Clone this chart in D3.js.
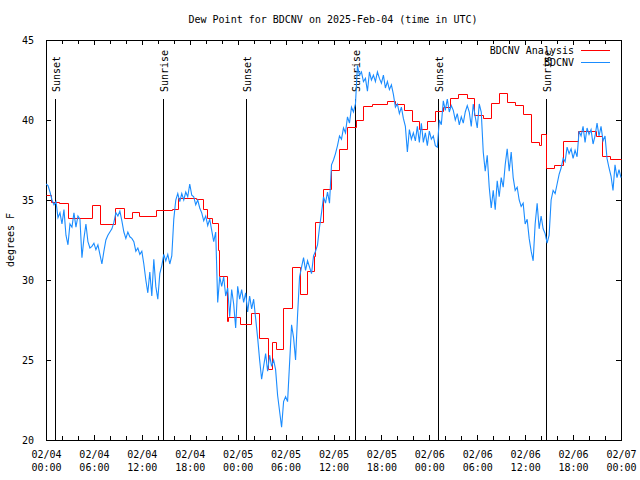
<!DOCTYPE html>
<html><head><meta charset="utf-8">
<script src="https://cdn.jsdelivr.net/npm/d3@7"></script>
<style>
body{margin:0;background:#fff}
text{font-family:"DejaVu Sans Mono","Liberation Mono",monospace;font-size:10px;fill:#000}
</style>
</head><body><svg id="c" width="640" height="480"></svg>
<script>
// ---------- DATA ----------
const title = "Dew Point for BDCNV on 2025-Feb-04 (time in UTC)";
const yLabel = "degrees F";
const seriesNames = ["BDCNV Analysis", "BDCNV"];
const startUTC = Date.UTC(2025, 1, 4, 0, 0);
const spanHours = 72;
const yTicks = [20, 25, 30, 35, 40, 45];

// observations, one value every 15 minutes from 02/04 00:00
const obsStepHours = 0.25;
const obsValues = [
  36.0,35.9,35.5,35.0, 34.7,34.9,33.9,34.2, 33.5,34.4,32.8,32.2, 33.5,33.3,34.2,33.3,
  34.0,33.8,31.4,32.6, 33.5,32.4,32.0,32.1, 32.3,31.9,32.2,31.6, 31.0,31.8,32.5,32.8,
  33.0,33.2,33.6,34.2, 34.0,34.3,33.7,33.0, 32.6,33.0,32.7,32.6, 32.4,31.8,32.0,31.6,
  31.8,31.0,30.0,29.2, 30.5,29.0,31.3,29.6, 28.8,30.4,30.9,31.6, 31.2,31.6,31.0,31.5,
  33.8,35.0,35.4,34.9, 35.4,35.0,35.5,35.2, 36.0,35.3,35.2,34.7, 35.0,34.5,34.2,33.7,
  34.0,33.4,33.8,33.1, 32.4,33.0,28.6,30.2, 29.6,30.2,29.0,29.5, 27.7,29.4,28.5,27.0,
  29.6,28.8,29.4,28.6, 29.2,28.0,29.0,28.2, 28.8,27.6,26.4,25.0, 23.8,24.6,25.4,24.3,
  25.3,24.6,25.0,24.4, 22.8,21.8,20.8,22.4, 22.7,22.4,24.8,27.2, 26.4,25.0,27.8,30.2,
  30.8,31.4,30.6,31.2, 30.8,30.4,31.5,31.8, 32.2,33.3,34.2,35.2, 34.8,35.5,34.8,37.2,
  37.5,37.9,38.4,39.0, 38.8,39.5,39.2,40.2, 39.8,40.8,40.5,41.0, 43.4,42.8,43.0,42.4,
  42.6,41.8,43.0,42.5, 42.8,42.4,43.0,42.6, 42.3,42.8,42.0,42.4, 41.9,42.2,41.6,40.8,
  41.0,40.4,40.8,40.1, 39.6,38.0,39.4,38.8, 39.2,38.7,39.6,38.6, 39.8,38.6,39.2,38.4,
  39.3,38.8,39.0,38.4, 38.3,40.0,39.7,41.2, 40.6,41.3,40.5,40.9, 40.6,40.0,40.4,39.7,
  40.2,39.8,40.5,40.9, 40.5,39.6,41.0,40.2, 39.5,41.0,40.5,38.0, 36.8,37.8,35.8,34.5,
  35.6,34.4,36.2,35.2, 36.4,35.8,37.2,38.2, 36.8,38.0,36.4,35.6, 35.8,35.0,34.6,34.8,
  33.5,33.8,32.6,31.8, 31.2,33.5,34.8,33.2, 34.0,33.2,32.9,32.3, 32.8,35.0,35.6,35.4,
  36.0,36.6,37.0,37.6, 37.4,38.3,37.9,38.2, 37.6,38.1,37.7,39.3, 39.0,39.6,38.6,39.5,
  39.1,39.4,38.5,39.0, 39.8,39.0,39.6,38.7, 39.0,37.6,37.0,36.5, 35.6,37.2,36.4,36.9,
  36.4
];

// analysis: step starts (hours after 02/04 00:00) and values
const anaHours = [0,0.66,1.67,2.72,5.72,6.76,8.64,9.77,10.73,11.68,13.77,15.78,16.57,18.75,19.70,20.20,20.75,21.58,21.70,22.63,22.83,24.29,25.61,26.73,27.80,28.34,28.74,29.71,30.77,31.77,32.72,33.62,33.72,34.72,35.69,36.73,37.73,38.76,39.73,40.78,42.66,43.70,44.77,45.77,46.71,47.71,48.71,49.67,50.59,51.63,52.68,53.59,54.76,55.68,56.72,57.73,58.73,59.69,60.67,61.71,61.98,62.61,63.67,64.74,66.65,68.81,69.68,70.62,72];
const anaValues = [35.3,34.9,34.8,33.9,34.7,33.5,34.5,33.85,34.25,34.0,34.35,34.45,35.15,35.08,34.42,33.9,33.54,31.88,30.25,27.44,27.71,27.25,27.92,26.35,24.42,26.15,25.69,28.23,30.79,29.12,30.56,31.5,33.6,35.69,36.88,38.17,39.58,40.0,40.85,41.03,41.17,41.0,40.6,39.96,39.44,39.96,40.56,40.79,41.4,41.6,41.35,40.31,40.1,41.04,41.67,41.12,40.94,40.37,38.6,38.46,39.15,37.0,37.17,38.71,39.32,39.0,37.72,37.55,37.55];

const sunLabels = ["Sunset","Sunrise","Sunset","Sunrise","Sunset","Sunrise"];
const sunHours  = [1.165, 14.69, 25.08, 38.73, 49.12, 62.65];

const colors = ["#ff0000", "#1a8cff"];

// ---------- CHART ----------
const toDate = h => new Date(startUTC + h * 3600e3);
const svg = d3.select("#c");
const L = 46, R = 621, T = 40, B = 440;
const snap = v => Math.round(v) + 0.5;

const x = d3.scaleUtc().domain([toDate(0), toDate(spanHours)]).range([L, R]);
const y = d3.scaleLinear().domain([20, 45]).range([B, T]);

svg.append("rect").attr("width",640).attr("height",480).attr("fill","#fff");

svg.append("defs").append("clipPath").attr("id","clip")
  .append("rect").attr("x",L).attr("y",T).attr("width",R-L+1).attr("height",B-T+1);

const major = d3.utcHour.every(6).range(toDate(0), toDate(spanHours + 0.01));
const minor = d3.utcHour.every(2).range(toDate(0), toDate(spanHours + 0.01));

function axisG(gen, tr){
  const g = svg.append("g").attr("transform", tr).attr("shape-rendering","crispEdges").call(gen);
  g.select(".domain").remove();
  g.selectAll("line").attr("stroke","#000");
  return g;
}
// minor x ticks (bottom & top)
axisG(d3.axisBottom(x).tickValues(minor).tickSizeInner(-4).tickSizeOuter(0).tickFormat(""), `translate(0,${B})`);
axisG(d3.axisTop(x).tickValues(minor).tickSizeInner(-4).tickSizeOuter(0).tickFormat(""), `translate(0,${T})`);
// major x ticks with two-line labels
const gx = axisG(d3.axisBottom(x).tickValues(major).tickSizeInner(-5).tickSizeOuter(0).tickFormat(""), `translate(0,${B})`);
axisG(d3.axisTop(x).tickValues(major).tickSizeInner(-5).tickSizeOuter(0).tickFormat(""), `translate(0,${T})`);
const fmtD = d3.utcFormat("%m/%d"), fmtT = d3.utcFormat("%H:%M");
gx.selectAll(".tick").each(function(d){
  const t = d3.select(this).append("text").attr("text-anchor","middle").attr("fill","#000");
  t.append("tspan").attr("x",0).attr("y",18).text(fmtD(d));
  t.append("tspan").attr("x",0).attr("y",31).text(fmtT(d));
});
// y axes
const gy = axisG(d3.axisLeft(y).tickValues(yTicks).tickSizeInner(-5).tickSizeOuter(0).tickPadding(12).tickFormat(d3.format("d")), `translate(${L},0)`);
gy.selectAll("text").attr("fill","#000").attr("dy","0.36em").style("font-size","10px").style("font-family","'DejaVu Sans Mono',monospace");
axisG(d3.axisRight(y).tickValues(yTicks).tickSizeInner(-5).tickSizeOuter(0).tickFormat(""), `translate(${R},0)`);

// frame
svg.append("rect").attr("x",L).attr("y",T).attr("width",R-L).attr("height",B-T)
  .attr("fill","none").attr("stroke","#000").attr("shape-rendering","crispEdges");

// sunrise/sunset
const sun = svg.append("g");
sunHours.forEach((h,i)=>{
  const sx = Math.round(x(toDate(h)));
  sun.append("line").attr("x1",sx+0.5).attr("x2",sx+0.5).attr("y1",99).attr("y2",B)
    .attr("stroke","#000");
  sun.append("text").attr("transform",`translate(${sx+5},92) rotate(-90)`)
    .attr("text-anchor","start").text(sunLabels[i]);
});

// series
const plot = svg.append("g").attr("clip-path","url(#clip)");
const obs = obsValues.map((v,i)=>[toDate(i*obsStepHours), v]);
const ana = anaHours.map((h,i)=>[toDate(h), anaValues[i]]);
plot.append("path").datum(ana)
  .attr("d", d3.line().x(d=>snap(x(d[0]))).y(d=>snap(y(d[1]))).curve(d3.curveStepAfter))
  .attr("fill","none").attr("stroke",colors[0]).attr("stroke-width",1);
plot.append("path").datum(obs)
  .attr("d", d3.line().x(d=>x(d[0])).y(d=>y(d[1])))
  .attr("fill","none").attr("stroke",colors[1]).attr("stroke-width",1.1);

// legend
seriesNames.forEach((n,i)=>{
  const ly = 50 + i*12;
  svg.append("text").attr("x",574).attr("y",ly+3.6).attr("text-anchor","end").text(n);
  svg.append("line").attr("x1",581).attr("x2",610).attr("y1",ly+0.5).attr("y2",ly+0.5)
    .attr("stroke",colors[i]).attr("stroke-width",1);
});

// title & y label
svg.append("text").attr("x",333).attr("y",23).attr("text-anchor","middle").text(title);
svg.append("text").attr("transform","translate(14,240) rotate(-90)").attr("text-anchor","middle").text(yLabel);
</script>
</body></html>
